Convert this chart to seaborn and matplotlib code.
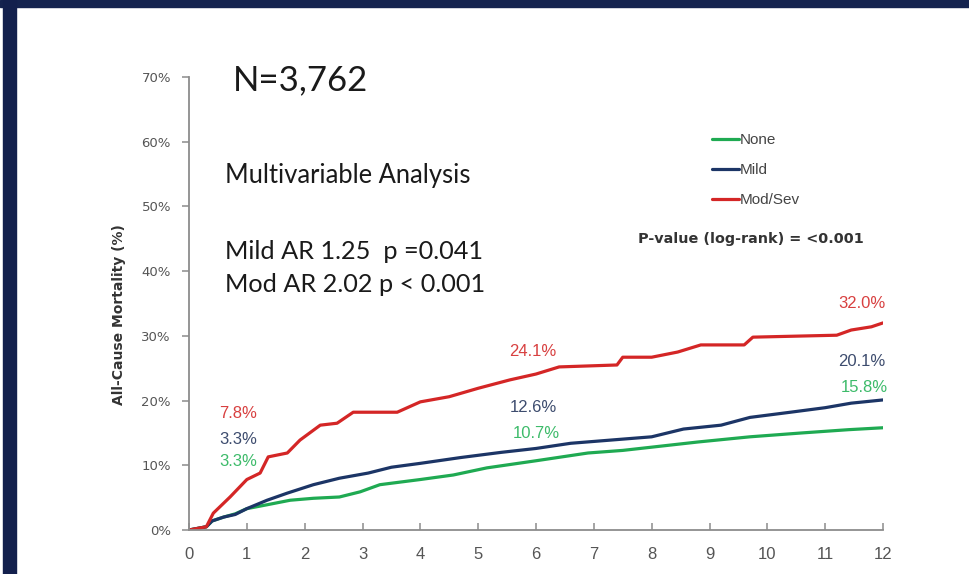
import numpy as np
import pandas as pd
import matplotlib
matplotlib.use("Agg")
import matplotlib.pyplot as plt
from matplotlib.patches import Rectangle
from matplotlib.lines import Line2D
import seaborn as sns

# Cumulative all-cause mortality (%) by aortic regurgitation grade, years 0-12
none_t = [0, 0.3, 0.4, 0.6, 0.8, 1.0, 1.35, 1.75, 2.15, 2.6, 2.96, 3.3, 3.65, 4.0,
          4.57, 5.15, 6.0, 6.9, 7.5, 8.0, 8.8, 9.7, 10.6, 11.4, 12.0]
none_v = [0, 0.5, 1.4, 2.0, 2.5, 3.3, 3.9, 4.6, 4.9, 5.1, 5.9, 7.0, 7.4, 7.8,
          8.5, 9.6, 10.7, 11.9, 12.3, 12.8, 13.6, 14.4, 15.0, 15.5, 15.8]

mild_t = [0, 0.3, 0.4, 0.6, 0.8, 1.0, 1.35, 1.7, 2.15, 2.6, 3.1, 3.5, 4.0, 4.7,
          5.4, 6.0, 6.6, 7.3, 8.0, 8.55, 9.2, 9.7, 10.4, 11.0, 11.45, 12.0]
mild_v = [0, 0.5, 1.4, 2.0, 2.4, 3.3, 4.6, 5.7, 7.0, 8.0, 8.8, 9.7, 10.3, 11.2,
          12.0, 12.6, 13.4, 13.9, 14.4, 15.6, 16.2, 17.4, 18.2, 18.9, 19.6, 20.1]

modsev_t = [0, 0.3, 0.42, 0.71, 1.0, 1.23, 1.37, 1.7, 1.92, 2.27, 2.56, 2.84, 3.6,
            4.0, 4.5, 5.0, 5.55, 6.0, 6.4, 7.4, 7.5, 8.0, 8.45, 8.85, 9.6, 9.75,
            11.2, 11.45, 11.8, 12.0]
modsev_v = [0, 0.5, 2.6, 5.1, 7.8, 8.8, 11.3, 11.9, 13.9, 16.2, 16.5, 18.2, 18.2,
            19.8, 20.6, 21.9, 23.2, 24.1, 25.2, 25.5, 26.7, 26.7, 27.5, 28.6, 28.6,
            29.8, 30.1, 30.9, 31.4, 32.0]

groups = ["None", "Mild", "Mod/Sev"]
x_ticks = list(range(0, 13))
y_ticks = [0, 10, 20, 30, 40, 50, 60, 70]
label_years = [1, 6, 12]

line_colors = {"None": "#1faa52", "Mild": "#1c3566", "Mod/Sev": "#d42626"}
text_colors = {"None": "#3dbb6a", "Mild": "#3d4c6e", "Mod/Sev": "#d84040"}

df = pd.concat([
    pd.DataFrame({"year": none_t, "mortality": none_v, "group": "None"}),
    pd.DataFrame({"year": mild_t, "mortality": mild_v, "group": "Mild"}),
    pd.DataFrame({"year": modsev_t, "mortality": modsev_v, "group": "Mod/Sev"}),
], ignore_index=True)

sns.set_theme(style="white")
plt.rcParams["font.family"] = ["Liberation Sans", "DejaVu Sans"]

W, H = 969, 574
fig = plt.figure(figsize=(W / 100, H / 100), dpi=100)
fig.patch.set_facecolor("white")

def px(x, y):
    return x / W, 1 - y / H

# slide frame: top band and left bar
fig.patches.append(Rectangle((0, 1 - 7 / H), 1, 7 / H, transform=fig.transFigure,
                             color="#15234f", zorder=0))
fig.patches.append(Rectangle((3 / W, 0), 13 / W, 1, transform=fig.transFigure,
                             color="#13204d", zorder=0))

ax = fig.add_axes([189 / W, 44 / H, 694 / W, 453 / H])
sns.lineplot(data=df, x="year", y="mortality", hue="group", hue_order=groups,
             palette=line_colors, estimator=None, sort=False, linewidth=2.3,
             legend=False, ax=ax)

ax.set_xlim(0, 12)
ax.set_ylim(0, 70)
ax.set_xticks(x_ticks)
ax.set_xticklabels([str(t) for t in x_ticks])
ax.set_yticks(y_ticks)
ax.set_yticklabels([f"{v}%" for v in y_ticks], family=["DejaVu Sans"])
ax.set_xlabel("")
ax.set_ylabel("")
for s in ["top", "right"]:
    ax.spines[s].set_visible(False)
for s in ["left", "bottom"]:
    ax.spines[s].set_color("#8c8c8c")
    ax.spines[s].set_linewidth(1.3)
ax.tick_params(axis="x", direction="in", length=5, width=1.1, color="#8c8c8c",
               labelsize=12, labelcolor="#555555", pad=12.5)
ax.tick_params(axis="y", direction="out", length=5, width=1.1, color="#8c8c8c",
               labelsize=9.5, labelcolor="#555555", pad=8)
ax.tick_params(left=True, bottom=True)

# value labels at 1, 6 and 12 years
series = {"None": (none_t, none_v), "Mild": (mild_t, mild_v),
          "Mod/Sev": (modsev_t, modsev_v)}
label_pos = {
    1: {"Mod/Sev": (238, 414), "Mild": (238, 440), "None": (238, 461)},
    6: {"Mod/Sev": (533, 351), "Mild": (533, 407), "None": (536, 433)},
    12: {"Mod/Sev": (862, 304), "Mild": (862, 362), "None": (864, 388)},
}
for yr in label_years:
    for g in groups:
        ts, vs = series[g]
        val = vs[ts.index(yr)]
        fx, fy = px(*label_pos[yr][g])
        fig.text(fx, fy, f"{val:.1f}%", color=text_colors[g], fontsize=12,
                 ha="center", va="center")

# legend
handles = [Line2D([0], [0], color=line_colors[g], lw=2.3) for g in groups]
leg = fig.legend(handles, groups, loc="upper left", bbox_to_anchor=px(712, 133),
                 frameon=False, fontsize=11, handlelength=1.75, handletextpad=0.05,
                 labelspacing=1.05, borderpad=0, borderaxespad=0,
                 labelcolor="#444444")

fig.text(*px(638, 239), "P-value (log-rank) = <0.001", fontsize=10.4,
         family=["DejaVu Sans"], fontweight="bold", color="#333333",
         ha="left", va="center")

fig.text(*px(119, 315), "All-Cause Mortality (%)", fontsize=10,
         family=["DejaVu Sans"], fontweight="bold", color="#333333",
         ha="center", va="center", rotation=90)

# study summary
big = ["Lato", "DejaVu Sans"]
fig.text(*px(233, 90), "N=3,762", fontsize=25, family=big, color="#1a1a1a",
         ha="left", va="baseline")
fig.text(*px(225, 183), "Multivariable Analysis", fontsize=18.4, family=big,
         color="#1a1a1a", ha="left", va="baseline")
fig.text(*px(225, 259), "Mild AR 1.25  p =0.041", fontsize=18.2, family=big,
         color="#1a1a1a", ha="left", va="baseline")
fig.text(*px(225, 292), "Mod AR 2.02 p < 0.001", fontsize=18.2, family=big,
         color="#1a1a1a", ha="left", va="baseline")

fig.savefig("out.png", dpi=100)
